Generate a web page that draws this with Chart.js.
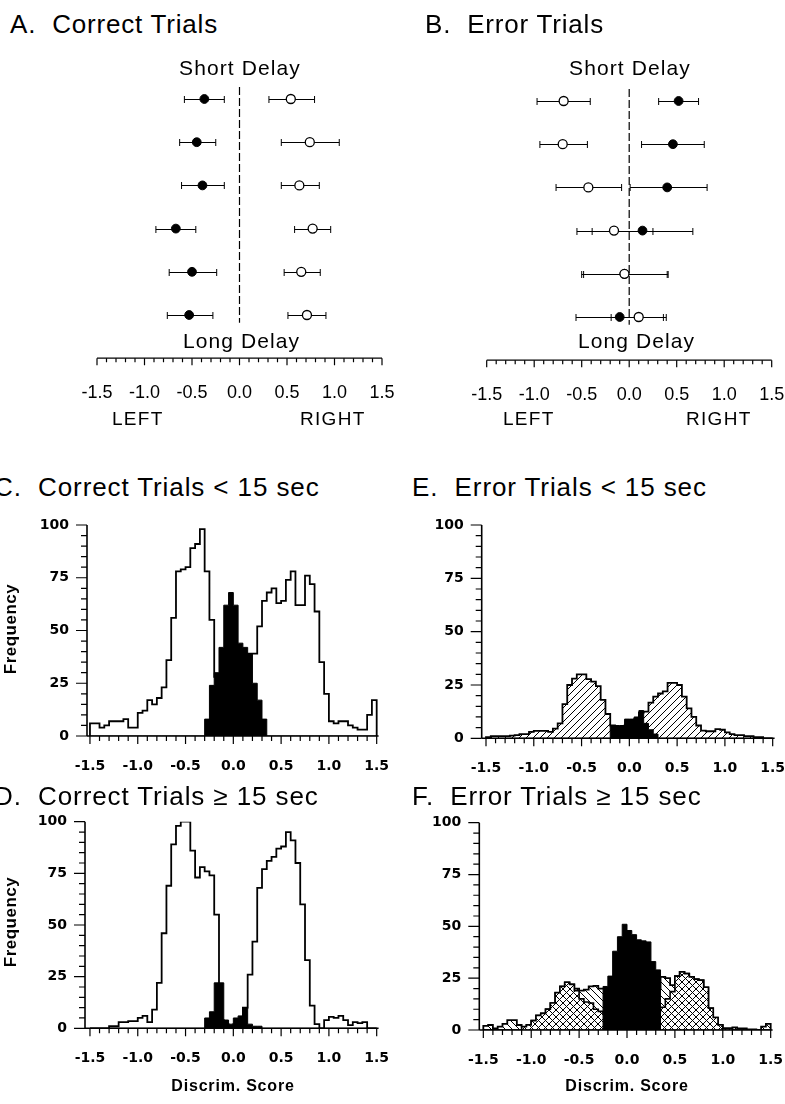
<!DOCTYPE html>
<html>
<head>
<meta charset="utf-8">
<script src="https://cdn.jsdelivr.net/npm/chart.js@4.4.1/dist/chart.umd.min.js"></script>
<style>
  html, body { margin: 0; padding: 0; background: #fff; overflow: hidden; }
  #page { position: relative; width: 785px; height: 1104px; overflow: hidden; }
  canvas { position: absolute; }
  .t { position: absolute; white-space: pre; line-height: 1; color: #000; font-family: "Liberation Sans", Arial, sans-serif; }
</style>
</head>
<body>
<div id="page"></div>
<script>
// ---- dot plots (A, B): rows go from short delay (1) to long delay (6)
const rows = [1, 2, 3, 4, 5, 6]

const aFilledMean = [-0.37, -0.45, -0.39, -0.67, -0.50, -0.53]
const aFilledLo = [-0.58, -0.63, -0.61, -0.88, -0.74, -0.76]
const aFilledHi = [-0.16, -0.25, -0.16, -0.46, -0.24, -0.28]
const aOpenMean = [0.54, 0.74, 0.63, 0.77, 0.65, 0.71]
const aOpenLo = [0.31, 0.44, 0.44, 0.58, 0.47, 0.51]
const aOpenHi = [0.79, 1.05, 0.84, 0.96, 0.85, 0.91]

const bOpenMean = [-0.69, -0.70, -0.43, -0.16, -0.05, 0.10]
const bOpenLo = [-0.97, -0.94, -0.77, -0.55, -0.50, -0.19]
const bOpenHi = [-0.41, -0.44, -0.08, 0.25, 0.40, 0.39]
const bFilledMean = [0.52, 0.46, 0.40, 0.14, -0.05, -0.10]
const bFilledLo = [0.31, 0.13, 0.01, -0.39, -0.48, -0.56]
const bFilledHi = [0.73, 0.79, 0.82, 0.67, 0.41, 0.36]

// ---- histograms (C-F): 60 bins of 0.05 from -1.5 to 1.5
const binStart = -1.5
const binWidth = 0.05

const cOpen = [
  6, 6, 4, 5, 7, 7, 7, 8, 4, 4,
  11, 12, 17, 15, 18, 23, 36, 56, 78, 79,
  80, 89, 91, 98, 78, 55, 28, 12, 6, 4,
  6, 15, 30, 39, 39, 52, 64, 68, 70, 63,
  64, 74, 78, 62, 62, 76, 72, 59, 35, 20,
  7, 6, 7, 7, 5, 4, 3, 3, 10, 17,
]
const cBlack = [
  0, 0, 0, 0, 0, 0, 0, 0, 0, 0,
  0, 0, 0, 0, 0, 0, 0, 0, 0, 0,
  0, 0, 0, 0, 8, 24, 30, 42, 62, 68,
  62, 44, 42, 39, 25, 17, 8, 0, 0, 0,
  0, 0, 0, 0, 0, 0, 0, 0, 0, 0,
  0, 0, 0, 0, 0, 0, 0, 0, 0, 0,
]

const dOpen = [
  0, 0, 0, 0, 1, 1, 3, 3, 3.5, 3.5,
  5, 6, 3, 9, 22, 46, 69, 89, 98, 100,
  100, 86, 73, 78, 76, 74, 55, 4, 2, 1,
  2, 4, 10, 26, 42, 68, 77, 81, 83, 87,
  88, 95, 91, 80, 60, 33, 11, 2, 0, 4,
  5.5, 5, 6, 4, 1.5, 3, 2.5, 3, 0, 0,
]
const dBlack = [
  0, 0, 0, 0, 0, 0, 0, 0, 0, 0,
  0, 0, 0, 0, 0, 0, 0, 0, 0, 0,
  0, 0, 0, 0, 5, 8, 22, 22, 4, 2,
  5, 6, 10, 2, 1, 1, 0, 0, 0, 0,
  0, 0, 0, 0, 0, 0, 0, 0, 0, 0,
  0, 0, 0, 0, 0, 0, 0, 0, 0, 0,
]

const eHatch = [
  0.5, 1, 1, 1, 1, 1.3, 1.5, 2, 2, 3,
  3.5, 3.5, 3.5, 3, 4.5, 7, 16, 25, 28, 30,
  30, 27.7, 26.6, 24.5, 18, 11.4, 6, 5, 5, 6,
  7, 9, 12, 12.5, 16.7, 19.5, 21, 22, 26, 26,
  25, 19.5, 14, 10, 6, 3.6, 3.3, 3.3, 4.3, 4,
  2.8, 2, 1.5, 1.5, 1, 1, 0.5, 0.5, 0, 0,
]
const eBlack = [
  0, 0, 0, 0, 0, 0, 0, 0, 0, 0,
  0, 0, 0, 0, 0, 0, 0, 0, 0, 0,
  0, 0, 0, 0, 0, 0, 6, 6, 6, 9,
  9, 10, 13, 7, 4, 2, 0, 0, 0, 0,
  0, 0, 0, 0, 0, 0, 0, 0, 0, 0,
  0, 0, 0, 0, 0, 0, 0, 0, 0, 0,
]

const fHatch = [
  2, 2.4, 0.8, 1.6, 3, 4.8, 4.8, 2.4, 1.6, 2.4,
  4.5, 7, 8, 10, 13, 18, 21, 23, 22, 20,
  19, 19.5, 21, 21.3, 20, 20, 18, 16, 14, 12,
  12, 12, 12, 12, 14, 18, 20, 25.6, 25, 21.6,
  26, 28, 27.2, 25.6, 24.5, 24, 20.6, 10.5, 6, 2.4,
  0.8, 0.8, 1.3, 0.8, 0.8, 0.3, 0.3, 0, 1.6, 3,
]
const fCross = [
  0, 0, 0, 0, 0, 0, 0, 0, 1.6, 2.4,
  4.5, 7, 8, 10, 13, 18, 21, 23, 22, 19,
  15, 13.5, 13, 10, 9, 8, 7, 6, 5, 5,
  5, 5, 5, 6, 7, 8, 9, 11, 15, 18.5,
  26, 28, 27.2, 25.6, 24.5, 24, 20.6, 10.5, 6, 2.4,
  0.8, 0.8, 0, 0, 0, 0, 0, 0, 0, 0,
]
const fBlack = [
  0, 0, 0, 0, 0, 0, 0, 0, 0, 0,
  0, 0, 0, 0, 0, 0, 0, 0, 0, 0,
  0, 0, 0, 0, 0, 21, 26, 38, 45, 51,
  48, 46, 43.5, 43, 42.5, 33, 29, 0, 0, 0,
  0, 0, 0, 0, 0, 0, 0, 0, 0, 0,
  0, 0, 0, 0, 0, 0, 0, 0, 0, 0,
]

const xLabels = [-1.5, -1.0, -0.5, 0.0, 0.5, 1.0, 1.5]
const yLabels = [0, 25, 50, 75, 100]

const page = document.getElementById('page')

function makeCanvas(box) {
    let c = document.createElement('canvas')
    c.width = box.w
    c.height = box.h
    c.style.left = box.x + 'px'
    c.style.top = box.y + 'px'
    page.appendChild(c)
    return c
}

function pads(box, area, wY, hX) {
    return {
        left: area.l - box.x - wY,
        right: box.x + box.w - area.r,
        top: area.t - box.y,
        bottom: box.y + box.h - area.b - hX,
    }
}

function hatch(kind, size) {
    let c = document.createElement('canvas')
    c.width = size
    c.height = size
    let g = c.getContext('2d')
    g.fillStyle = '#fff'
    g.fillRect(0, 0, size, size)
    g.strokeStyle = '#000'
    g.lineWidth = 1
    g.beginPath()
    if (kind !== 'back') {
        g.moveTo(-1, size + 1); g.lineTo(size + 1, -1)
        g.moveTo(-1, 1); g.lineTo(1, -1)
        g.moveTo(size - 1, size + 1); g.lineTo(size + 1, size - 1)
    }
    if (kind !== 'fwd') {
        g.moveTo(-1, -1); g.lineTo(size + 1, size + 1)
        g.moveTo(size - 1, -1); g.lineTo(size + 1, 1)
        g.moveTo(-1, size - 1); g.lineTo(1, size + 1)
    }
    g.stroke()
    return g.createPattern(c, 'repeat')
}

// axis lines and tick marks (major at labels, minor in between)
const frame = {
    id: 'frame',
    afterDatasetsDraw(chart, args, o) {
        let {ctx, chartArea: a, scales: {x, y}} = chart
        ctx.save()
        ctx.strokeStyle = '#000'
        ctx.lineWidth = o.axisWidth
        ctx.beginPath()
        ctx.moveTo(a.left, a.bottom)
        ctx.lineTo(a.right, a.bottom)
        if (o.yAxis) {
            ctx.moveTo(a.left, a.top)
            ctx.lineTo(a.left, a.bottom)
        }
        ctx.stroke()
        ctx.lineWidth = 1.2
        ctx.beginPath()
        for (let i = 0; i <= 30; i++) {
            let px = x.getPixelForValue(xLabels[0] + i * 0.1)
            let len = i % 5 === 0 ? o.xMajor : o.xMinor
            ctx.moveTo(px, a.bottom)
            ctx.lineTo(px, a.bottom + len)
        }
        if (o.yAxis) {
            for (let v = 0; v <= 100; v += 5) {
                let py = y.getPixelForValue(v)
                let len = v % 25 === 0 ? o.yMajor : o.yMinor
                ctx.moveTo(a.left, py)
                ctx.lineTo(a.left - len, py)
            }
        }
        ctx.stroke()
        ctx.restore()
    },
}

// error bars with caps, and the dashed line at zero
const errorBars = {
    id: 'errorBars',
    beforeDatasetsDraw(chart, args, o) {
        let {ctx, scales: {x, y}} = chart
        ctx.save()
        ctx.strokeStyle = '#000'
        ctx.lineWidth = 1.2
        ctx.setLineDash([8, 3])
        ctx.beginPath()
        ctx.moveTo(x.getPixelForValue(0), y.getPixelForValue(o.zeroFrom))
        ctx.lineTo(x.getPixelForValue(0), y.getPixelForValue(o.zeroTo))
        ctx.stroke()
        ctx.setLineDash([])
        ctx.lineWidth = 1
        chart.data.datasets.forEach((ds) => {
            ds.data.forEach((p, i) => {
                let x0 = x.getPixelForValue(ds.lo[i])
                let x1 = x.getPixelForValue(ds.hi[i])
                let py = Math.round(y.getPixelForValue(p.y)) + 0.5
                ctx.beginPath()
                ctx.moveTo(x0, py); ctx.lineTo(x1, py)
                ctx.moveTo(x0, py - 3.5); ctx.lineTo(x0, py + 3.5)
                ctx.moveTo(x1, py - 3.5); ctx.lineTo(x1, py + 3.5)
                ctx.stroke()
            })
        })
        ctx.restore()
    },
}

function dotChart(box, area, filled, open) {
    let hX = 60
    new Chart(makeCanvas(box), {
        type: 'scatter',
        data: {
            datasets: [
                {
                    data: rows.map((r, i) => ({x: open.mean[i], y: r})),
                    lo: open.lo, hi: open.hi,
                    pointBackgroundColor: '#fff', pointBorderColor: '#000',
                    pointRadius: 4.5, pointBorderWidth: 1.3, order: 0,
                },
                {
                    data: rows.map((r, i) => ({x: filled.mean[i], y: r})),
                    lo: filled.lo, hi: filled.hi,
                    pointBackgroundColor: '#000', pointBorderColor: '#000',
                    pointRadius: 4.4, pointBorderWidth: 1, order: 1,
                },
            ],
        },
        options: {
            responsive: false,
            animation: false,
            events: [],
            layout: {padding: pads(box, area, 0, hX)},
            plugins: {
                legend: {display: false},
                tooltip: {enabled: false},
                frame: {axisWidth: 1.3, xMajor: 7, xMinor: 4, yAxis: false},
                errorBars: {zeroFrom: 0.72, zeroTo: 6.18},
            },
            scales: {
                x: {
                    type: 'linear', min: -1.5, max: 1.5,
                    grid: {display: false, drawTicks: false}, border: {display: false},
                    afterBuildTicks: (s) => { s.ticks = xLabels.map((v) => ({value: v})) },
                    afterFit: (s) => { s.height = hX; s.paddingLeft = 0; s.paddingRight = 0 },
                    ticks: {
                        color: '#000', padding: 24, maxRotation: 0,
                        font: {family: 'Liberation Sans', size: 18},
                        callback: (v) => v.toFixed(1),
                    },
                },
                y: {type: 'linear', display: false, min: 0, max: 7, reverse: true},
            },
        },
        plugins: [errorBars, frame],
    })
}

function steps(counts) {
    let end = binStart + counts.length * binWidth
    let pts = [{x: binStart, y: 0}]
    counts.forEach((c, i) => pts.push({x: binStart + i * binWidth, y: c}))
    pts.push({x: end, y: counts[counts.length - 1]})
    pts.push({x: end, y: 0})
    return pts
}

function histChart(box, area, xMin, series) {
    let wY = 50
    let hX = 40
    new Chart(makeCanvas(box), {
        type: 'line',
        data: {
            datasets: series.map((s) => ({
                data: steps(s.counts),
                stepped: true,
                fill: 'origin',
                backgroundColor: s.fill,
                borderColor: '#000',
                borderWidth: s.lw,
                borderJoinStyle: 'miter',
                pointRadius: 0,
                order: s.order,
            })),
        },
        options: {
            responsive: false,
            animation: false,
            events: [],
            layout: {padding: pads(box, area, wY, hX)},
            plugins: {
                legend: {display: false},
                tooltip: {enabled: false},
                frame: {axisWidth: 1.6, xMajor: 8, xMinor: 5, yAxis: true, yMajor: 11, yMinor: 6},
            },
            scales: {
                x: {
                    type: 'linear', min: xMin, max: 1.52,
                    grid: {display: false, drawTicks: false}, border: {display: false},
                    afterBuildTicks: (s) => { s.ticks = xLabels.map((v) => ({value: v})) },
                    afterFit: (s) => { s.height = hX; s.paddingLeft = 0; s.paddingRight = 0 },
                    ticks: {
                        color: '#000', padding: 22, maxRotation: 0,
                        font: {family: 'DejaVu Sans', size: 14, weight: 'bold'},
                        callback: (v) => v.toFixed(1),
                    },
                },
                y: {
                    type: 'linear', min: 0, max: 100,
                    grid: {display: false, drawTicks: false}, border: {display: false},
                    afterBuildTicks: (s) => { s.ticks = yLabels.map((v) => ({value: v})) },
                    afterFit: (s) => { s.width = wY; s.paddingTop = 0; s.paddingBottom = 0 },
                    ticks: {
                        color: '#000', padding: 18,
                        font: {family: 'DejaVu Sans', size: 14, weight: 'bold'},
                        callback: (v) => String(v),
                    },
                },
            },
        },
        plugins: [frame],
    })
}

// text placed by baseline (Liberation Sans metrics)
function text(str, x, baseline, size, opts = {}) {
    let d = document.createElement('div')
    d.className = 't'
    d.textContent = str
    d.style.fontSize = size + 'px'
    d.style.letterSpacing = (opts.ls || 0) + 'px'
    d.style.fontWeight = opts.bold ? 'bold' : 'normal'
    d.style.top = (baseline - 0.8465 * size) + 'px'
    d.style.left = x + 'px'
    if (opts.center) d.style.transform = 'translateX(-50%)'
    page.appendChild(d)
}

function vtext(str, cx, cy, size, opts = {}) {
    let d = document.createElement('div')
    d.className = 't'
    d.textContent = str
    d.style.fontSize = size + 'px'
    d.style.letterSpacing = (opts.ls || 0) + 'px'
    d.style.fontWeight = 'bold'
    d.style.left = cx + 'px'
    d.style.top = cy + 'px'
    d.style.transform = 'translate(-50%, -50%) rotate(-90deg)'
    page.appendChild(d)
}

dotChart({x: 0, y: 40, w: 400, h: 400}, {l: 97, r: 382, t: 55.8, b: 358.2},
    {mean: aFilledMean, lo: aFilledLo, hi: aFilledHi},
    {mean: aOpenMean, lo: aOpenLo, hi: aOpenHi})
dotChart({x: 390, y: 40, w: 395, h: 400}, {l: 486.7, r: 771.7, t: 57.8, b: 360.2},
    {mean: bFilledMean, lo: bFilledLo, hi: bFilledHi},
    {mean: bOpenMean, lo: bOpenLo, hi: bOpenHi})

const diag = hatch('fwd', 7)
const back = hatch('back', 7)
const cross = hatch('cross', 7)

histChart({x: 0, y: 505, w: 395, h: 290}, {l: 87, r: 378.6, t: 525, b: 736}, -1.531, [
    {counts: cBlack, fill: '#000', lw: 1, order: 0},
    {counts: cOpen, fill: '#fff', lw: 1.8, order: 1},
])
histChart({x: 0, y: 800, w: 395, h: 304}, {l: 85, r: 378.6, t: 821.7, b: 1028.3}, -1.552, [
    {counts: dBlack, fill: '#000', lw: 1, order: 0},
    {counts: dOpen, fill: '#fff', lw: 1.8, order: 1},
])
histChart({x: 395, y: 505, w: 390, h: 290}, {l: 481.7, r: 774.6, t: 525, b: 738.3}, -1.545, [
    {counts: eBlack, fill: '#000', lw: 1, order: 0},
    {counts: eHatch, fill: diag, lw: 1.8, order: 1},
])
histChart({x: 395, y: 800, w: 390, h: 304}, {l: 479.3, r: 772.6, t: 822.7, b: 1030}, -1.542, [
    {counts: fBlack, fill: '#000', lw: 1, order: 0},
    {counts: fCross, fill: cross, lw: 1.6, order: 1},
    {counts: fHatch, fill: back, lw: 1.8, order: 2},
])

text('A.  Correct Trials', 10, 33, 26, {ls: 0.8})
text('B.  Error Trials', 425, 33, 26, {ls: 0.8})
text('Short Delay', 240, 75, 21, {ls: 1.1, center: true})
text('Long Delay', 241.5, 348, 21, {ls: 1.1, center: true})
text('Short Delay', 630, 75, 21, {ls: 1.1, center: true})
text('Long Delay', 636.5, 348, 21, {ls: 1.1, center: true})
text('LEFT', 112, 425, 19, {ls: 1.3})
text('RIGHT', 300, 425, 19, {ls: 1.3})
text('LEFT', 503, 425, 19, {ls: 1.3})
text('RIGHT', 686, 425, 19, {ls: 1.3})

text('C.  Correct Trials < 15 sec', -6, 496, 26, {ls: 0.9})
text('D.  Correct Trials \u2265 15 sec', -6, 805, 26, {ls: 0.9})
text('E.  Error Trials < 15 sec', 412, 496, 26, {ls: 0.9})
text('F.  Error Trials \u2265 15 sec', 412, 805, 26, {ls: 0.9})

vtext('Frequency', 10, 629, 17, {ls: 0.5})
vtext('Frequency', 10, 922, 17, {ls: 0.5})
text('Discrim. Score', 233, 1092, 16, {ls: 0.8, bold: true, center: true})
text('Discrim. Score', 627, 1092, 16, {ls: 0.8, bold: true, center: true})
</script>
</body>
</html>
